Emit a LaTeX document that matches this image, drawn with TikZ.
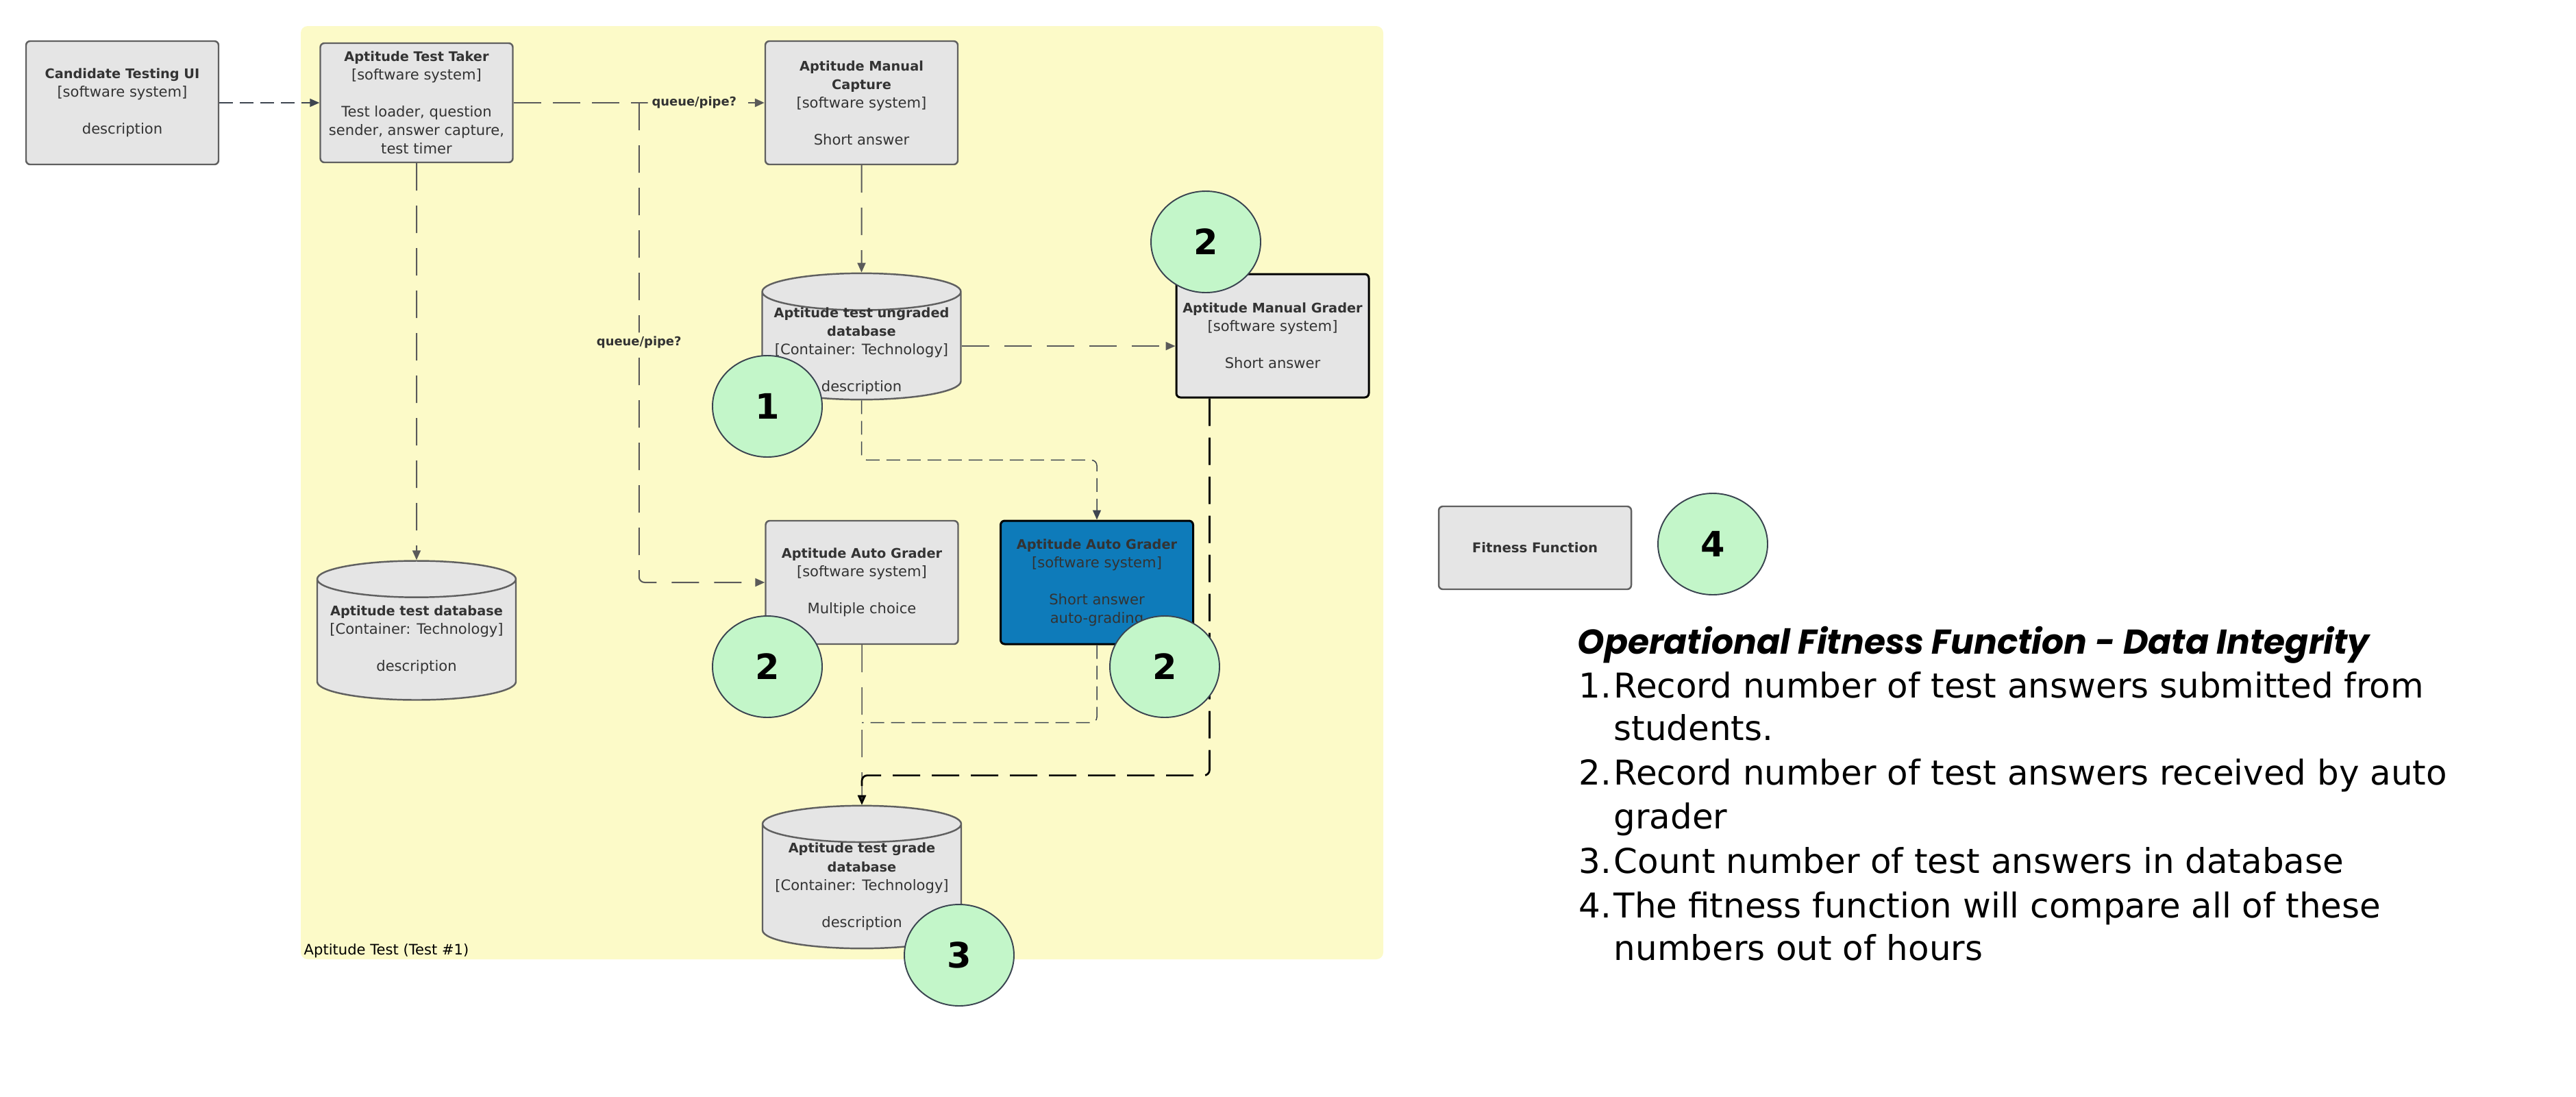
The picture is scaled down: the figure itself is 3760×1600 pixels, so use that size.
\documentclass[tikz,border=0pt]{standalone}
\usepackage{fontspec}
\setmainfont{DejaVu Sans}
\newfontfamily\headfont{Poppins}
\usetikzlibrary{shapes.geometric,arrows.meta,calc,positioning}

\definecolor{zoneyellow}{HTML}{FCFAC8}
\definecolor{boxgrey}{HTML}{E5E5E5}
\definecolor{boxline}{HTML}{606060}
\definecolor{inkgrey}{HTML}{333333}
\definecolor{markgreen}{HTML}{C3F6C9}
\definecolor{markline}{HTML}{3A4450}
\definecolor{autoblue}{HTML}{0E7BBA}
\definecolor{wiregrey}{HTML}{5A5A5A}
\definecolor{wireslate}{HTML}{3E4550}

\newcommand{\boxfont}{\fontsize{6}{7.7}\selectfont}
\newcommand{\ttl}[1]{{\fontsize{5.5}{7.7}\selectfont\bfseries #1}}
\newcommand{\markfont}{\fontsize{14.5}{16}\selectfont\bfseries}
\newcommand{\listfont}{\fontsize{14.2}{18.3}\selectfont}

\tikzset{
  sysbox/.style={rectangle, rounded corners=0.6mm, draw=boxline, line width=0.7pt,
    fill=boxgrey, text=inkgrey, align=center, font=\boxfont,
    minimum width=28.1mm, minimum height=18mm, inner sep=0pt},
  dbcyl/.style={cylinder, shape border rotate=90, aspect=0.21, draw=boxline,
    line width=0.7pt, fill=boxgrey, text=inkgrey, align=center, font=\boxfont,
    minimum width=29mm, minimum height=17mm, inner sep=0pt},
  marker/.style={ellipse, draw=markline, line width=0.55pt, fill=markgreen,
    minimum width=16mm, minimum height=14.8mm, inner sep=0pt, font=\markfont},
  wire/.style={-{Triangle[length=1.4mm,width=1.2mm]}, rounded corners=0.8mm},
  thickwire/.style={wire, draw=wiregrey, line width=0.77pt, dash pattern=on 4mm off 1.7mm},
  medwire/.style={wire, draw=wiregrey, line width=0.57pt, dash pattern=on 4mm off 2.2mm},
  thinwire/.style={wire, draw=wireslate, line width=0.43pt, dash pattern=on 2mm off 1mm},
  wirelabel/.style={fill=zoneyellow, text=inkgrey, inner sep=0.6mm,
    font=\fontsize{5.1}{6}\selectfont\bfseries},
}

\begin{document}
\begin{tikzpicture}[x=0.1mm, y=-0.1mm]
  \useasboundingbox (0,0) rectangle (3760,1600);

  % the test zone
  \fill[zoneyellow, rounded corners=1mm] (439,38) rectangle (2019,1400);
  \node[anchor=base west, inner sep=0pt, font=\boxfont] (zonelabel) at (443,1393)
    {Aptitude Test (Test \#1)};

  % systems
  \node[sysbox] (ui) at (178.5,150)
    {\ttl{Candidate Testing UI}\\{[software system]}\\[7.7pt]description};
  \node[sysbox, minimum height=17.4mm] (taker) at (608,150)
    {\ttl{Aptitude Test Taker}\\{[software system]}\\[7.7pt]Test loader, question\\sender, answer capture,\\test timer};
  \node[sysbox] (capture) at (1257.5,150)
    {\ttl{Aptitude Manual}\\\ttl{Capture}\\{[software system]}\\[7.7pt]Short answer};
  \node[sysbox, draw=black, line width=0.85pt] (grader) at (1857.5,490)
    {\ttl{Aptitude Manual Grader}\\{[software system]}\\[7.7pt]Short answer};
  \node[sysbox] (auto) at (1258,850)
    {\ttl{Aptitude Auto Grader}\\{[software system]}\\[7.7pt]Multiple choice};
  \node[sysbox, fill=autoblue, draw=black, line width=0.85pt] (autoblue) at (1601,850)
    {\ttl{Aptitude Auto Grader}\\{[software system]}\\[7.7pt]Short answer\\auto-grading};
  \node[sysbox, minimum height=12.1mm, font=\fontsize{5.6}{7}\selectfont\bfseries] (fitness) at (2240.5,799.5)
    {Fitness Function};

  % databases
  \node[dbcyl, inner ysep=-2mm, anchor=shape center] (ungraded) at (1257.5,491)
    {\ttl{\rule{0pt}{8.5pt}Aptitude test ungraded}\\\ttl{database}\\{[Container: Technology]}\\[7.7pt]description};
  \node[dbcyl, minimum height=20.3mm, anchor=shape center] (testdb) at (608,920)
    {\ttl{Aptitude test database}\\{[Container: Technology]}\\[7.7pt]description};
  \node[dbcyl, minimum height=20mm, anchor=shape center] (gradedb) at (1258,1280)
    {\ttl{Aptitude test grade}\\\ttl{database}\\{[Container: Technology]}\\[7.7pt]description};

  % connectors
  \draw[thinwire] (ui.east) -- (ui.east -| taker.west);
  \draw[thickwire] (taker.east) -- node[pos=0.72, wirelabel] {queue/pipe?} (capture.west);
  \coordinate (split) at ($(taker.east)!0.5!(capture.west)$);
  \draw[medwire] (split) -- node[wirelabel] {queue/pipe?} (split |- auto.west) -- (auto.west);
  \draw[medwire] (taker.south) -- (testdb.north);
  \draw[medwire] (capture.south) -- (ungraded.north);
  \draw[medwire] (ungraded.east) -- (ungraded.east -| grader.west);
  \draw[thinwire] (ungraded.south) |- ($(ungraded.south)!0.5!(autoblue.north)$) -| (autoblue.north);
  \draw[medwire, line width=0.43pt] (auto.south) -- (gradedb.north);
  \coordinate (merge) at ($(gradedb.north)+(0,-120)$);
  \draw[thinwire, -] (autoblue.south) |- (merge);
  \draw[thickwire, draw=black, -{Triangle[length=1.4mm,width=1.2mm,fill=inkgrey]}]
    ([xshift=5mm]grader.south west) |- ($(gradedb.north)+(0,-43)$) -- (gradedb.north);

  % numbered markers
  \node[marker] (markA) at (1760,353) {2};
  \node[marker] (markB) at (1120,593) {1};
  \node[marker] (markC) at (1120,973) {2};
  \node[marker] (markD) at (1700,973) {2};
  \node[marker] (markE) at (1400,1394) {3};
  \node[marker] (markF) at (2500,794) {4};

  % legend text
  \node[anchor=base west, inner sep=0pt, font=\fontsize{14.3}{16}\selectfont\headfont\bfseries\itshape] (heading)
    at (2302,954) {Operational Fitness Function - Data Integrity};
  \foreach \n/\y/\num/\txt in {1/1018/1./Record number of test answers submitted from,
      2/1080//students.,
      3/1145/2./Record number of test answers received by auto,
      4/1209//grader,
      5/1274/3./Count number of test answers in database,
      6/1339/4./The fitness function will compare all of these,
      7/1401//numbers out of hours}
    \node[anchor=base west, inner sep=0pt, font=\listfont] (line\n) at (2304,\y)
      {\makebox[5.1mm][l]{\num}\txt};
\end{tikzpicture}
\end{document}
